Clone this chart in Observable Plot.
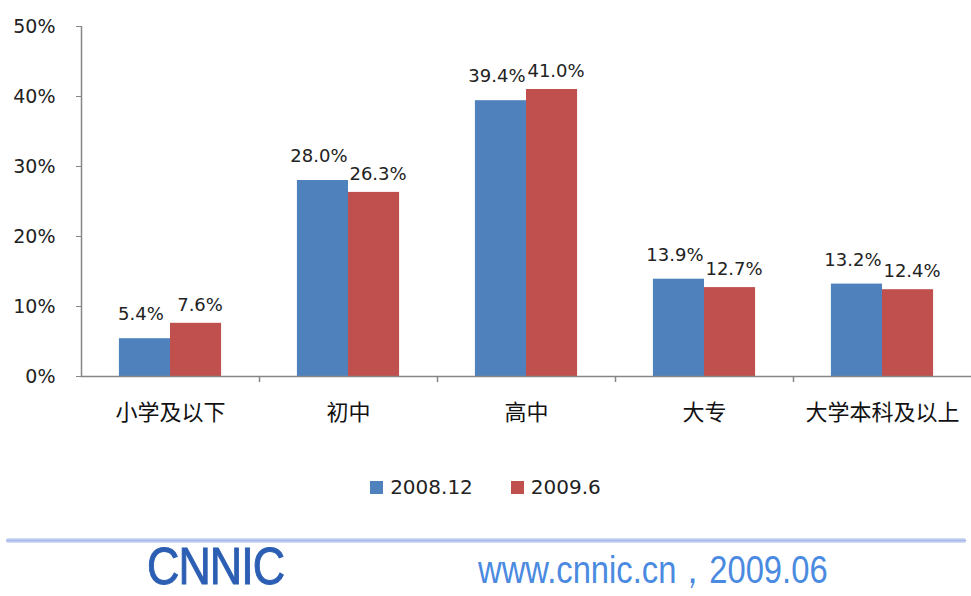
<!DOCTYPE html>
<html>
<head>
<meta charset="utf-8">
<script src="https://cdn.jsdelivr.net/npm/d3@7"></script>
<script src="https://cdn.jsdelivr.net/npm/@observablehq/plot@0.6"></script>
<style>
  html, body { margin: 0; padding: 0; background: #fff; width: 971px; height: 596px; overflow: hidden; }
  #chart { position: absolute; left: 0; top: 0; }
  #legend { position: absolute; left: 0; top: 475px; width: 971px; text-align: center; font-family: "DejaVu Sans", sans-serif; font-size: 20px; color: #222; }
  #legend .item { display: inline-block; margin: 0 19px; }
  #legend .sw { display: inline-block; width: 13px; height: 13px; margin-right: 7px; vertical-align: 0px; }
  #rule { position: absolute; left: 6px; top: 538px; width: 960px; height: 5px; border-radius: 3px;
          background: linear-gradient(to bottom, #dce4f8, #a9b9e8 50%, #dce4f8); }
  #logo { position: absolute; left: 147px; top: 537px; font-family: "Liberation Sans", sans-serif; font-size: 52px; line-height: 58px; color: #2c5fb3;
          transform: scaleX(0.86); transform-origin: left top; letter-spacing: -1px; -webkit-text-stroke: 1px #2c5fb3; }
  #url { position: absolute; left: 478px; top: 550px; font-family: "Liberation Sans", sans-serif; font-size: 39px; line-height: 40px; color: #4a8ae0;
          transform: scaleX(0.84); transform-origin: left top; white-space: nowrap; }
</style>
</head>
<body>
<div id="chart"></div>
<div id="legend"></div>
<div id="rule"></div>
<div id="logo">CNNIC</div>
<div id="url">www.cnnic.cn，2009.06</div>
<script>
// ---- data ----
const categories = ["小学及以下", "初中", "高中", "大专", "大学本科及以上"];
const series = ["2008.12", "2009.6"];
const values2008 = [5.4, 28.0, 39.4, 13.9, 13.2];
const values2009 = [7.6, 26.3, 41.0, 12.7, 12.4];
const yTicks = [0, 10, 20, 30, 40, 50];
const colors = ["#4f81bd", "#c0504d"];

const rows = [];
categories.forEach((c, i) => {
  rows.push({category: c, series: series[0], value: values2008[i]});
  rows.push({category: c, series: series[1], value: values2009[i]});
});
const rowsA = rows.filter(d => d.series === series[0]);
const rowsB = rows.filter(d => d.series === series[1]);

// ---- layout ----
const W = 971, H = 440, ML = 81, MR = 0, MT = 26, MB = 64;
const step = (W - ML - MR) / categories.length;
const barW = step * 0.287;
const gap = (step - 2 * barW) / 2;
const fmt = d => d.value.toFixed(1) + "%";

const chart = Plot.plot({
  width: W, height: H,
  marginLeft: ML, marginRight: MR, marginTop: MT, marginBottom: MB,
  style: {fontFamily: "DejaVu Sans, sans-serif", fontSize: "18px", color: "#222", background: "transparent", overflow: "visible"},
  x: {type: "band", domain: categories, padding: 0, axis: null, label: null},
  y: {domain: [0, 50], axis: null, label: null},
  color: {domain: series, range: colors},
  marks: [
    Plot.barY(rowsA, {x: "category", y: "value", fill: "series", insetLeft: gap, insetRight: step - gap - barW}),
    Plot.barY(rowsB, {x: "category", y: "value", fill: "series", insetLeft: gap + barW, insetRight: gap}),
    Plot.text(rowsA, {x: "category", y: "value", text: fmt, dx: -barW / 2 - 4, dy: -24, fill: "#222", fontSize: 18}),
    Plot.text(rowsB, {x: "category", y: "value", text: fmt, dx: barW / 2 + 4, dy: -18, fill: "#222", fontSize: 18}),
    Plot.ruleY([0], {stroke: "#868686", strokeWidth: 1.5}),
    Plot.ruleX([categories[0]], {x: d => d, dx: -step / 2, y1: 0, y2: 50, stroke: "#868686", strokeWidth: 1.5}),
    Plot.ruleX(categories.slice(1), {x: d => d, dx: -step / 2, y1: 0, y2: 0, insetBottom: -6, stroke: "#868686", strokeWidth: 1.5}),
    Plot.axisY(yTicks, {tickSize: 5, tickPadding: 21, tickFormat: d => d + "%", stroke: "#868686", fill: "#222", fontSize: 19, label: null}),
    Plot.axisX({tickSize: 0, tickPadding: 28, fill: "#111", fontSize: 22, fontFamily: "Noto Sans CJK SC, sans-serif", label: null})
  ]
});
document.getElementById("chart").appendChild(chart);

// ---- legend ----
const legend = document.getElementById("legend");
series.forEach((s, i) => {
  const item = document.createElement("span");
  item.className = "item";
  item.innerHTML = `<span class="sw" style="background:${colors[i]}"></span>${s}`;
  legend.appendChild(item);
});
</script>
</body>
</html>
